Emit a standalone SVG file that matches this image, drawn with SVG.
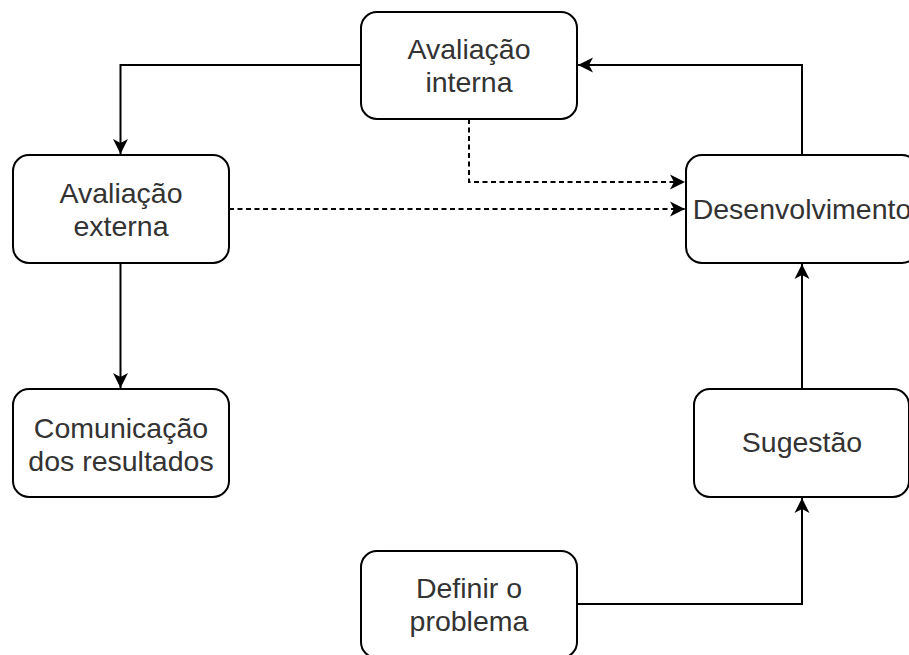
<svg xmlns="http://www.w3.org/2000/svg" width="909" height="655" viewBox="0 0 909 655">
<style>
.box{fill:#fff;stroke:#000;stroke-width:2}
.t{font-family:"Liberation Sans",Arial,Helvetica,sans-serif;font-size:28.5px;fill:#333;text-anchor:middle}
.c{fill:none;stroke:#000;stroke-width:2}
.d{stroke-dasharray:5 3.5}
</style>
<defs>
<marker id="a" markerWidth="17" markerHeight="17" viewBox="0 0 17 17" refX="16" refY="8.5" orient="auto" markerUnits="userSpaceOnUse">
<path d="M1,1 L16,8.5 L1,16 L5,8.5 Z" fill="#000" stroke="none"/>
</marker>
</defs>
<rect width="909" height="655" fill="#fff"/>
<g id="connectors">
<path class="c" d="M361,65 H120.5 V154" marker-end="url(#a)"/>
<path class="c" d="M120.5,263 V388" marker-end="url(#a)"/>
<path class="c d" d="M229,209 H685" marker-end="url(#a)"/>
<path class="c d" d="M469,119 V182 H685" marker-end="url(#a)"/>
<path class="c" d="M802,155 V65 H578" marker-end="url(#a)"/>
<path class="c" d="M802,389 V264" marker-end="url(#a)"/>
<path class="c" d="M577,604 H802 V498" marker-end="url(#a)"/>
</g>
<g id="avaliacao-interna">
<rect class="box" x="361" y="12" width="216" height="107" rx="16"/>
<text class="t" x="469" y="59">Avaliação</text>
<text class="t" x="469" y="92">interna</text>
</g>
<g id="avaliacao-externa">
<rect class="box" x="13" y="155" width="216" height="108" rx="16"/>
<text class="t" x="121" y="202.5">Avaliação</text>
<text class="t" x="121" y="235.5">externa</text>
</g>
<g id="desenvolvimento">
<rect class="box" x="686" y="155" width="232" height="108" rx="16"/>
<text class="t" x="802" y="218.5">Desenvolvimento</text>
</g>
<g id="comunicacao">
<rect class="box" x="13" y="389" width="216" height="108" rx="16"/>
<text class="t" x="121" y="437.5">Comunicação</text>
<text class="t" x="121" y="471">dos resultados</text>
</g>
<g id="sugestao">
<rect class="box" x="694" y="389" width="215" height="108" rx="16"/>
<text class="t" x="802" y="452">Sugestão</text>
</g>
<g id="definir">
<rect class="box" x="361" y="551" width="216" height="107" rx="16"/>
<text class="t" x="469" y="598">Definir o</text>
<text class="t" x="469" y="631">problema</text>
</g>
</svg>
